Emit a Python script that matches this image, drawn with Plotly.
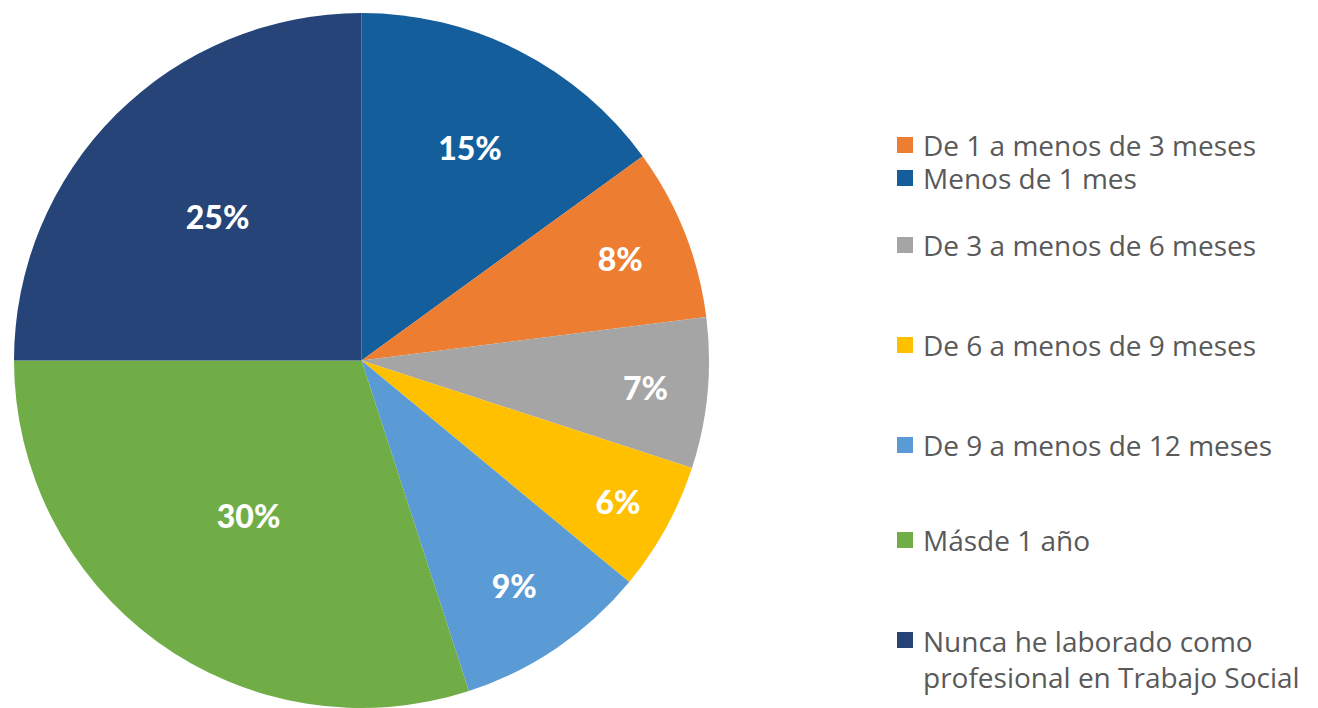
import plotly.graph_objects as go

labels = ["Menos de 1 mes", "De 1 a menos de 3 meses", "De 3 a menos de 6 meses",
          "De 6 a menos de 9 meses", "De 9 a menos de 12 meses", "Másde 1 año",
          "Nunca he laborado como<br>profesional en Trabajo Social"]
values = [15, 8, 7, 6, 9, 30, 25]
colors = ["#135E9B", "#ED7D31", "#A5A5A5", "#FFC000", "#5B9BD5", "#70AD47", "#264478"]

legend_order = [1, 0, 2, 3, 4, 5, 6]
legend_y = [145, 178, 245, 345, 445, 540, 659]

OFF = 8  # page body margin
W, H = 1310, 700

def px(x):
    return (x - OFF) / W

def py(y):
    return 1 - (y - OFF) / H

fig = go.Figure()
fig.add_trace(go.Pie(
    labels=labels, values=values, sort=False, direction="clockwise", rotation=0,
    marker=dict(colors=colors, line=dict(width=0)),
    texttemplate="%{percent:.0%}", textposition="inside",
    insidetextorientation="horizontal",
    textfont=dict(family="Lato", size=32, color="white", weight=900),
    domain=dict(x=[px(12), px(711)], y=[0, py(13)]),
    showlegend=False, hoverinfo="label+percent",
))

shapes = []
annotations = []
for i, idx in enumerate(legend_order):
    yc = legend_y[i]
    ysq = 640 if idx == 6 else yc
    shapes.append(dict(type="rect", xref="paper", yref="paper",
                       x0=px(897), x1=px(913), y0=py(ysq + 8), y1=py(ysq - 8),
                       fillcolor=colors[idx], line=dict(width=0)))
    annotations.append(dict(text=labels[idx], x=px(921), y=py(yc), xref="paper", yref="paper",
                            xanchor="left", yanchor="middle", showarrow=False, align="left",
                            font=dict(family="Open Sans", size=28, color="#595959")))

fig.update_layout(width=W, height=H, margin=dict(l=0, r=0, t=0, b=0),
                  paper_bgcolor="white", plot_bgcolor="white",
                  shapes=shapes, annotations=annotations)
fig.write_html("out.html")
